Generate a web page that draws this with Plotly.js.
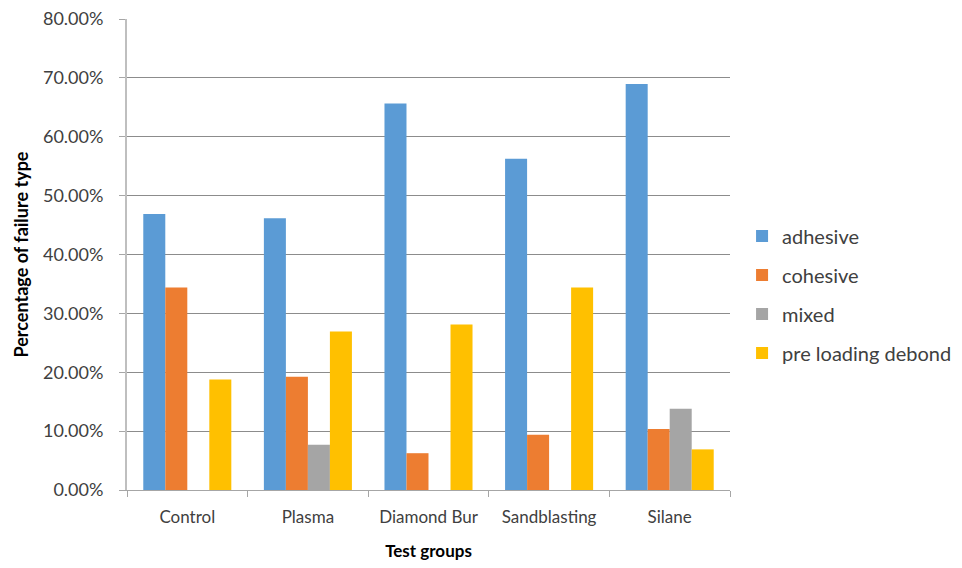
<!DOCTYPE html>
<html>
<head>
<meta charset="utf-8">
<script src="https://cdn.plot.ly/plotly-3.0.1.min.js"></script>
<style>html,body{margin:0;padding:0;background:#fff;}#chart{width:962px;height:568px;}</style>
</head>
<body>
<div id="chart"></div>
<script>
const categories = ["Control", "Plasma", "Diamond Bur", "Sandblasting", "Silane"];
const seriesNames = ["adhesive", "cohesive", "mixed", "pre loading debond"];
const adhesive = [46.88, 46.15, 65.63, 56.25, 68.97];
const cohesive = [34.38, 19.23, 6.25, 9.38, 10.34];
const mixed = [0, 7.69, 0, 0, 13.79];
const preLoadingDebond = [18.75, 26.92, 28.13, 34.38, 6.90];
const seriesColors = ["#5B9BD5", "#ED7D31", "#A5A5A5", "#FFC000"];
const yTickValues = [0, 10, 20, 30, 40, 50, 60, 70, 80];
const yTickLabels = ["0.00%", "10.00%", "20.00%", "30.00%", "40.00%", "50.00%", "60.00%", "70.00%", "80.00%"];

const allSeries = [adhesive, cohesive, mixed, preLoadingDebond];
const traces = allSeries.map((vals, i) => ({
  type: "bar",
  name: seriesNames[i],
  x: categories,
  y: vals,
  legendgroup: "g" + i,
  marker: {color: seriesColors[i], line: {width: 0}},
  hoverinfo: "x+y+name"
}));

const font = "Lato, 'Open Sans', 'Liberation Sans', sans-serif";
const layout = {
  width: 962,
  height: 568,
  margin: {l: 127, r: 232, t: 19, b: 78, autoexpand: false},
  paper_bgcolor: "#fff",
  plot_bgcolor: "#fff",
  font: {family: font, size: 15, color: "#404040"},
  barmode: "group",
  bargap: 0.27,
  bargroupgap: 0,
  showlegend: true,
  legend: {
    x: 1.02, xanchor: "left",
    y: 0.415, yanchor: "middle",
    font: {family: font, size: 20, color: "#404040"},
    tracegroupgap: 10,
    itemwidth: 30,
    bgcolor: "rgba(0,0,0,0)"
  },
  xaxis: {
    type: "category",
    showline: true,
    linecolor: "#A6A6A6",
    linewidth: 1,
    ticks: "outside",
    tickson: "boundaries",
    ticklen: 6,
    tickcolor: "#A6A6A6",
    ticklabelstandoff: 12,
    showgrid: false,
    tickfont: {family: font, size: 17, color: "#404040"},
    title: {text: "<b>Test groups</b>", font: {family: font, size: 17, color: "#000"}, standoff: 18}
  },
  yaxis: {
    range: [0, 80],
    tickmode: "array",
    tickvals: yTickValues,
    ticktext: yTickLabels,
    showline: true,
    linecolor: "#BFBFBF",
    linewidth: 2,
    ticks: "outside",
    ticklen: 6,
    tickcolor: "#A6A6A6",
    ticklabelstandoff: 12,
    showgrid: true,
    gridcolor: "#8C8C8C",
    gridwidth: 1,
    zeroline: false,
    tickfont: {family: font, size: 18, color: "#404040"},
    title: {text: "<b>Percentage of failure type</b>", font: {family: font, size: 18, color: "#000"}, standoff: 10}
  }
};

Plotly.newPlot("chart", traces, layout, {displayModeBar: false, staticPlot: true});
</script>
</body>
</html>
